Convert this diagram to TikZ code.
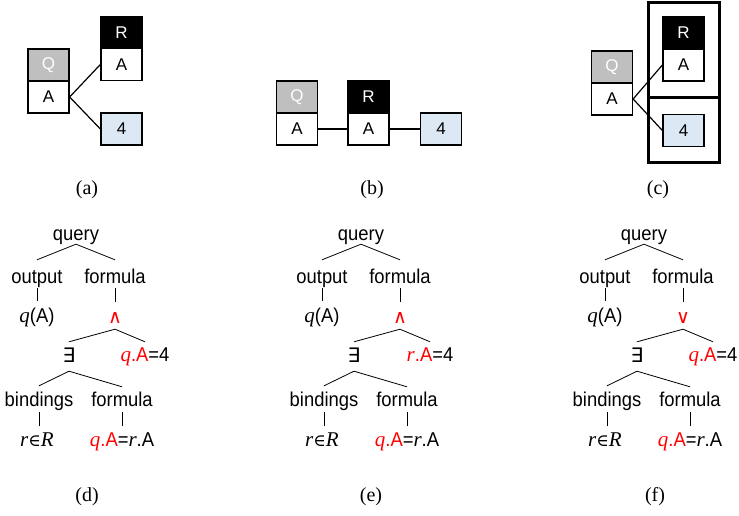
\documentclass[tikz,border=0pt]{standalone}
\usepackage{fontspec}
\setsansfont{Liberation Sans}
\newfontfamily\treefont[FakeStretch=0.92]{Liberation Sans}
\newfontfamily\capfont{Liberation Serif}
\newfontfamily\itfont{Liberation Serif}
\newfontfamily\symfont{DejaVu Sans}
\newfontfamily\symserif{DejaVu Serif}
\newcommand\vq{{\itfont\itshape q}}
\newcommand\vr{{\itfont\itshape r}}
\newcommand\vR{{\itfont\itshape R}}
\definecolor{qgray}{RGB}{191,191,191}
\definecolor{lblue}{RGB}{221,232,245}
\tikzset{
  tn/.style={anchor=base, inner sep=0pt, text height=14pt, text depth=4pt,
    font=\treefont\fontsize{20}{24}\selectfont},
  tedge/.style={line width=0.8pt},
  bx/.style={draw, line width=1.3pt, minimum width=41pt, minimum height=32pt,
    inner sep=0pt, font=\sffamily\fontsize{17}{20}\selectfont},
  qbx/.style={bx, fill=qgray, text=white},
  rbx/.style={bx, fill=black, text=white},
  abx/.style={bx, fill=white},
  vbx/.style={bx, fill=lblue},
  link/.style={line width=1.2pt},
  captxt/.style={font=\capfont\fontsize{20}{22}\selectfont},
  framebox/.style={draw, line width=3pt}
}
\newcommand\qtree[4]{%
\begin{scope}[xshift=#2pt, name prefix=#1-]
  \node[tn] (query) at (76,240) {query};
  \node[tn] (output) at (37,283) {output};
  \node[tn] (formula) at (115,283) {formula};
  \node[tn] (qa) at (37,322) {{\fontsize{21}{24}\selectfont\vq}(A)};
  \node[tn, text=red] (op) at (115,323) {\symfont\fontsize{19}{20}\selectfont #3};
  \node[tn] (ex) at (69,362) {\symfont\fontsize{20}{20}\selectfont ∃};
  \node[tn] (eq) at (145,361) {\textcolor{red}{{\fontsize{21}{24}\selectfont #4}.A}=4};
  \node[tn] (bind) at (39,406) {bindings};
  \node[tn] (form2) at (122,406) {formula};
  \node[tn] (rin) at (37,446) {\fontsize{21}{24}\selectfont\vr{\symserif\fontsize{17}{20}\selectfont ∈}\vR};
  \node[tn] (eq2) at (122,446) {\textcolor{red}{{\fontsize{21}{24}\selectfont\vq}.A}={\fontsize{21}{24}\selectfont\vr}.A};
  \draw[tedge] (query.south) -- ([yshift=9pt]output.north);
  \draw[tedge] (query.south) -- ([yshift=9pt]formula.north);
  \draw[tedge] ([yshift=-1pt]output.south) -- ([yshift=7pt]output.south |- qa.north);
  \draw[tedge] ([yshift=-1pt]formula.south) -- ([yshift=7pt]formula.south |- op.north);
  \draw[tedge] ([yshift=-2pt]op.south) -- ([yshift=6pt]ex.north);
  \draw[tedge] ([yshift=-2pt]op.south) -- ([yshift=5pt]eq.north);
  \draw[tedge] ([yshift=-5pt]ex.south) -- ([yshift=6pt]bind.north);
  \draw[tedge] ([yshift=-5pt]ex.south) -- ([yshift=5pt]form2.north);
  \draw[tedge] ([yshift=-2pt]bind.south) -- ([yshift=6pt]bind.south |- rin.north);
  \draw[tedge] ([yshift=-2pt]form2.south) -- ([yshift=6pt]form2.south |- eq2.north);
\end{scope}}
\begin{document}
\begin{tikzpicture}[x=1pt,y=-1pt]
\useasboundingbox (0,0) rectangle (739,516);
% (a)
\node[qbx] (aQ) at (48.5,65) {Q};
\node[abx] (aQA) at (48.5,97) {A};
\node[rbx] (aR) at (121.5,32.5) {R};
\node[abx] (aRA) at (121.5,64.5) {A};
\node[vbx] (a4) at (121.5,129) {4};
\draw[link] (aQA.east) -- (aRA.west);
\draw[link] (aQA.east) -- (a4.west);
\node[captxt] (capa) at (87,190) {(a)};
% (b)
\node[qbx] (bQ) at (297,97) {Q};
\node[abx] (bQA) at (297,129) {A};
\node[rbx] (bR) at (368.5,97) {R};
\node[abx] (bRA) at (368.5,129) {A};
\node[vbx] (b4) at (441,129) {4};
\draw[link] (bQA.east) -- (bRA.west);
\draw[link] (bRA.east) -- (b4.west);
\node[captxt] (capb) at (372,190) {(b)};
% (c)
\draw[framebox] (648,3) rectangle (719,98);
\draw[framebox] (648,98) rectangle (719,163);
\node[qbx] (cQ) at (612,67) {Q};
\node[abx] (cQA) at (612,99) {A};
\node[rbx] (cR) at (683.5,33) {R};
\node[abx] (cRA) at (683.5,65) {A};
\node[vbx] (c4) at (683.5,130.5) {4};
\draw[link] (cQA.east) -- (cRA.west);
\draw[link] (cQA.east) -- (c4.west);
\node[captxt] (capc) at (658,190) {(c)};
% trees
\qtree{d}{0}{∧}{\vq}
\qtree{e}{285}{∧}{\vr}
\qtree{f}{568}{∨}{\vq}
\node[captxt] (capd) at (87,497) {(d)};
\node[captxt] (cape) at (371,497) {(e)};
\node[captxt] (capf) at (655,497) {(f)};
\end{tikzpicture}
\end{document}
